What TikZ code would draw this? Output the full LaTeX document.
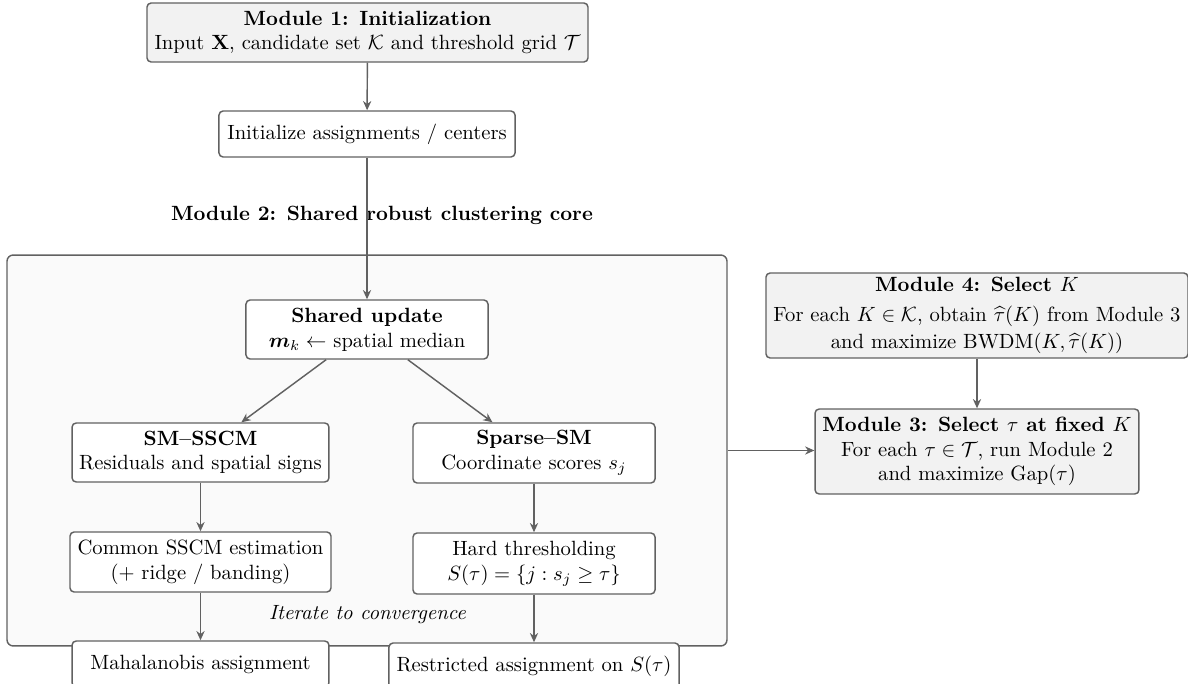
\documentclass[tikz,border=0pt]{standalone}
\usepackage{amsmath,amssymb}
\usetikzlibrary{arrows.meta}

\definecolor{linegray}{gray}{0.38}
\definecolor{modfill}{gray}{0.95}
\definecolor{corefill}{gray}{0.98}

\begin{document}
\begin{tikzpicture}[x=0.485pt,y=-0.485pt,
		box/.style={draw=linegray, line width=0.7pt, rounded corners=2pt, fill=white, align=center, inner sep=2pt},
		modbox/.style={box, fill=modfill},
		corebox/.style={draw=linegray, line width=0.7pt, rounded corners=3pt, fill=corefill},
		arr/.style={draw=linegray, line width=0.7pt, -{Stealth[length=4.5pt,width=4pt]}}]
		\useasboundingbox (0,0) rectangle (1188,684);
		\node[corebox, minimum width=349.2pt, minimum height=189.6pt] (core) at (367,450.5) {};
		\node[modbox, minimum width=213.9pt, minimum height=28.6pt] (m1) at (367.5,32.5) {\textbf{Module 1: Initialization}\\Input $\mathbf{X}$, candidate set $\mathcal{K}$ and threshold grid $\mathcal{T}$};
		\node[box, minimum width=143.6pt, minimum height=22.3pt] (init) at (367,134) {Initialize assignments / centers};
		\node[font=\bfseries] (m2) at (382,215) {Module 2: Shared robust clustering core};
		\node[box, minimum width=117.4pt, minimum height=28.6pt] (upd) at (367,329.5) {\textbf{Shared update}\\$\boldsymbol{m}_k \leftarrow$ spatial median};
		\node[box, minimum width=124.6pt, minimum height=28.6pt] (sscm) at (200.5,452.5) {\textbf{SM--SSCM}\\Residuals and spatial signs};
		\node[box, minimum width=117.4pt, minimum height=29.1pt] (sparse) at (534,453) {\textbf{Sparse--SM}\\Coordinate scores $s_j$};
		\node[box, minimum width=126.6pt, minimum height=29.1pt] (common) at (200.5,562) {Common SSCM estimation\\(+ ridge / banding)};
		\node[box, minimum width=117.4pt, minimum height=29.6pt] (hard) at (534,563.5) {Hard thresholding\\$S(\tau)=\{j : s_j \ge \tau\}$};
		\node[font=\itshape] (iter) at (367.5,615) {Iterate to convergence};
		\node[box, minimum width=124.6pt, minimum height=22.3pt] (maha) at (200.5,664) {Mahalanobis assignment};
		\node[box, minimum width=140.7pt, minimum height=22.3pt] (restr) at (534,666) {Restricted assignment on $S(\tau)$};
		\node[modbox, minimum width=204.7pt, minimum height=41.2pt] (m4) at (977,315.5) {\textbf{Module 4: Select $K$}\\[2.5pt]For each $K\in\mathcal{K}$, obtain $\widehat{\tau}(K)$ from Module 3\\[1pt]and maximize $\mathrm{BWDM}(K,\widehat{\tau}(K))$};
		\node[modbox, minimum width=157.1pt, minimum height=41.2pt] (m3) at (977,451.5) {\textbf{Module 3: Select $\tau$ at fixed $K$}\\For each $\tau\in\mathcal{T}$, run Module 2\\and maximize $\mathrm{Gap}(\tau)$};
		\draw[arr] (m1) -- (init);
		\draw[arr] (init) -- (upd);
		\draw[arr] (upd) -- (sscm);
		\draw[arr] (upd) -- (sparse);
		\draw[arr] (sscm) -- (common);
		\draw[arr] (sparse) -- (hard);
		\draw[arr] (common) -- (maha);
		\draw[arr] (hard) -- (restr);
		\draw[arr] (m4) -- (m3);
		\draw[arr] (core.east) -- (core.east -| m3.west);
	\end{tikzpicture}
\end{document}
